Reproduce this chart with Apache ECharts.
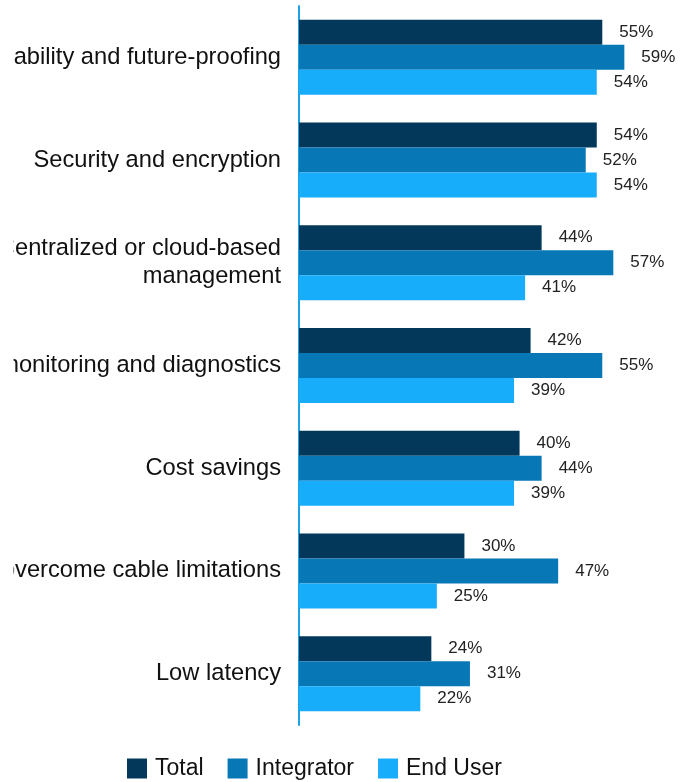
<!DOCTYPE html>
<html><head><meta charset="utf-8">
<script src="https://cdn.jsdelivr.net/npm/echarts@6/dist/echarts.min.js"></script>
<style>html,body{margin:0;padding:0;background:#fff}#c{width:692px;height:782px}</style>
</head><body><div id="c"></div>
<script>
const categories = [
  "Scalability and future-proofing",
  "Security and encryption",
  "Centralized or cloud-based\nmanagement",
  "Remote monitoring and diagnostics",
  "Cost savings",
  "To overcome cable limitations",
  "Low latency"
];
const seriesNames = ["Total", "Integrator", "End User"];
const totalValues = [55, 54, 44, 42, 40, 30, 24];
const integratorValues = [59, 52, 57, 55, 44, 47, 31];
const endUserValues = [54, 54, 41, 39, 39, 25, 22];
const colors = ["#03385a", "#0777b6", "#18adfb"];

const chart = echarts.init(document.getElementById('c'), null, {renderer: 'canvas'});
const values = [totalValues, integratorValues, endUserValues];
chart.setOption({
  backgroundColor: '#ffffff',
  animation: false,
  grid: {left: 299, top: 6, width: 386, height: 719, containLabel: false, outerBoundsMode: 'none'},
  legend: {
    left: 127, top: 757, padding: 0, itemWidth: 20, itemHeight: 20, itemGap: 24,
    icon: 'rect',
    textStyle: {fontFamily: 'Liberation Sans', fontSize: 23, color: '#111', padding: [0,0,0,3]},
    data: seriesNames
  },
  graphic: [{
    type: 'rect', left: 0, top: 0, z: 100,
    shape: {width: 13.5, height: 740},
    style: {fill: '#ffffff'}
  }],
  xAxis: {type: 'value', min: 0, max: 70, show: false},
  yAxis: {
    type: 'category', inverse: true, data: categories,
    axisLine: {show: true, lineStyle: {color: '#1ba3e3', width: 2}},
    axisTick: {show: false},
    axisLabel: {fontFamily: 'Liberation Sans', fontSize: 23.7, color: '#111', margin: 18, lineHeight: 28, align: 'right'}
  },
  series: seriesNames.map((n, i) => ({
    name: n, type: 'bar', data: values[i],
    barGap: '0%', barCategoryGap: '27%',
    itemStyle: {color: colors[i]},
    label: {show: true, position: 'right', distance: 17, formatter: '{c}%', fontFamily: 'Liberation Sans', fontSize: 17, color: '#222'}
  }))
});
</script></body></html>
